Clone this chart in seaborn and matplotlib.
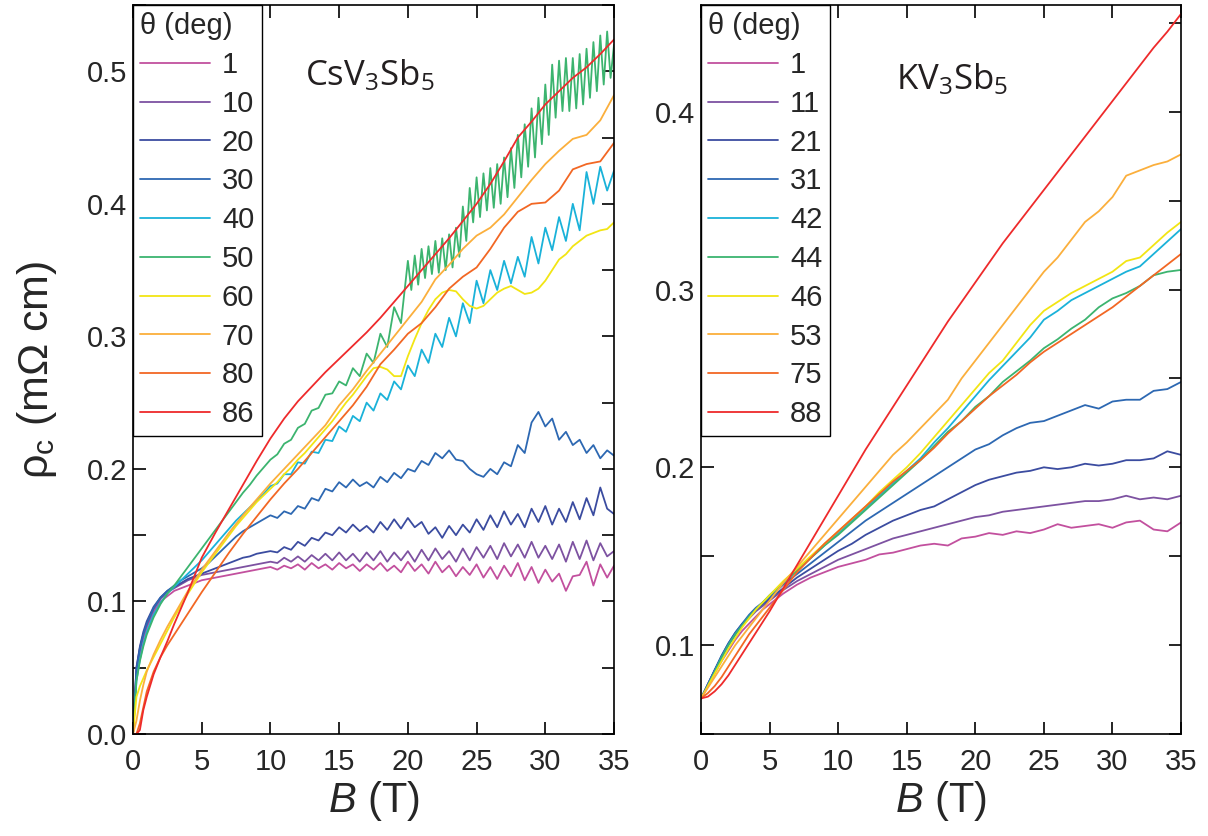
import numpy as np
import pandas as pd
import matplotlib
matplotlib.use("Agg")
import matplotlib.pyplot as plt
import seaborn as sns
from matplotlib.ticker import MultipleLocator, FormatStrFormatter

# ---------------- data: CsV3Sb5 (left panel) ----------------
B_cs_fine = [0, 0.25, 0.5, 0.75, 1, 1.5, 2, 2.5, 3, 3.5, 4, 4.5,
             5, 5.5, 6, 6.5, 7, 7.5, 8, 8.5, 9, 9.5,
             10, 10.5, 11, 11.5, 12, 12.5, 13, 13.5, 14, 14.5,
             15, 15.5, 16, 16.5, 17, 17.5, 18, 18.5, 19, 19.5,
             20, 20.5, 21, 21.5, 22, 22.5, 23, 23.5, 24, 24.5,
             25, 25.5, 26, 26.5, 27, 27.5, 28, 28.5, 29, 29.5,
             30, 30.5, 31, 31.5, 32, 32.5, 33, 33.5, 34, 34.5, 35]
B_cs_green = [0, 0.25, 0.5, 0.75, 1, 1.5, 2, 2.5, 3, 3.5, 4, 4.5,
              5, 5.5, 6, 6.5, 7, 7.5, 8, 8.5, 9, 9.5,
              10, 10.5, 11, 11.5, 12, 12.5, 13, 13.5, 14, 14.5,
              15, 15.5, 16, 16.5, 17, 17.5, 18, 18.5, 19, 19.5,
              20, 20.25, 20.5, 20.75, 21, 21.25, 21.5, 21.75,
              22, 22.25, 22.5, 22.75, 23, 23.25, 23.5, 23.75,
              24, 24.25, 24.5, 24.75, 25, 25.25, 25.5, 25.75,
              26, 26.25, 26.5, 26.75, 27, 27.25, 27.5, 27.75,
              28, 28.25, 28.5, 28.75, 29, 29.25, 29.5, 29.75,
              30, 30.25, 30.5, 30.75, 31, 31.25, 31.5, 31.75,
              32, 32.25, 32.5, 32.75, 33, 33.25, 33.5, 33.75,
              34, 34.25, 34.5, 34.75, 35]
B_cs_coarse = [0, 0.25, 0.5, 0.75, 1, 1.5, 2, 2.5, 3, 3.5, 4, 4.5,
               5, 6, 7, 8, 9, 10, 11, 12, 13, 14, 15, 16, 17, 18, 19, 20,
               21, 22, 23, 24, 25, 26, 27, 28, 29, 30, 31, 32, 33, 34, 35]

cs_angles = ["1", "10", "20", "30", "40", "50", "60", "70", "80", "86"]

cs_1 = [0, 0.045, 0.06, 0.072, 0.08, 0.092, 0.1, 0.104, 0.108, 0.11, 0.112, 0.114,
        0.116, 0.117, 0.118, 0.119, 0.12, 0.121, 0.122, 0.123, 0.124, 0.125,
        0.126, 0.124, 0.127, 0.125, 0.128, 0.124, 0.129, 0.125, 0.128, 0.124,
        0.129, 0.125, 0.128, 0.123, 0.128, 0.124, 0.129, 0.123, 0.127, 0.122,
        0.130, 0.123, 0.128, 0.121, 0.130, 0.122, 0.127, 0.119, 0.126, 0.120,
        0.128, 0.118, 0.126, 0.117, 0.127, 0.119, 0.129, 0.116, 0.126, 0.114,
        0.124, 0.115, 0.121, 0.108, 0.119, 0.120, 0.130, 0.112, 0.128, 0.118, 0.127]
cs_10 = [0, 0.05, 0.065, 0.075, 0.082, 0.094, 0.102, 0.107, 0.11, 0.113, 0.116, 0.118,
         0.120, 0.121, 0.122, 0.123, 0.124, 0.125, 0.126, 0.127, 0.128, 0.129,
         0.130, 0.129, 0.133, 0.130, 0.134, 0.130, 0.135, 0.131, 0.136, 0.131,
         0.137, 0.131, 0.136, 0.130, 0.137, 0.131, 0.138, 0.130, 0.137, 0.131,
         0.138, 0.130, 0.139, 0.131, 0.140, 0.132, 0.138, 0.130, 0.140, 0.131,
         0.141, 0.133, 0.142, 0.132, 0.144, 0.134, 0.143, 0.133, 0.145, 0.133,
         0.142, 0.132, 0.143, 0.130, 0.145, 0.132, 0.146, 0.131, 0.144, 0.134, 0.138]
cs_20 = [0, 0.05, 0.066, 0.077, 0.085, 0.096, 0.103, 0.108, 0.111, 0.114, 0.117, 0.119,
         0.121, 0.123, 0.125, 0.127, 0.129, 0.131, 0.133, 0.134, 0.136, 0.137,
         0.138, 0.137, 0.141, 0.139, 0.145, 0.142, 0.148, 0.146, 0.152, 0.150,
         0.156, 0.152, 0.158, 0.153, 0.157, 0.152, 0.160, 0.154, 0.162, 0.155,
         0.163, 0.156, 0.160, 0.151, 0.156, 0.148, 0.157, 0.150, 0.158, 0.152,
         0.162, 0.154, 0.165, 0.156, 0.168, 0.158, 0.166, 0.156, 0.170, 0.160,
         0.172, 0.158, 0.170, 0.160, 0.175, 0.162, 0.178, 0.165, 0.186, 0.170, 0.166]
cs_30 = [0, 0.048, 0.064, 0.075, 0.083, 0.095, 0.103, 0.108, 0.112, 0.116, 0.119, 0.122,
         0.125, 0.129, 0.134, 0.139, 0.144, 0.149, 0.153, 0.156, 0.159, 0.162,
         0.165, 0.163, 0.168, 0.166, 0.172, 0.170, 0.178, 0.176, 0.185, 0.183,
         0.190, 0.186, 0.192, 0.187, 0.190, 0.186, 0.194, 0.190, 0.197, 0.193,
         0.200, 0.198, 0.206, 0.203, 0.212, 0.208, 0.214, 0.207, 0.206, 0.200,
         0.196, 0.194, 0.200, 0.196, 0.205, 0.202, 0.218, 0.212, 0.235, 0.243,
         0.232, 0.238, 0.222, 0.228, 0.218, 0.222, 0.212, 0.218, 0.208, 0.214, 0.210]
cs_40 = [0, 0.04, 0.056, 0.068, 0.077, 0.09, 0.099, 0.106, 0.111, 0.116, 0.121, 0.126,
         0.131, 0.137, 0.143, 0.149, 0.155, 0.161, 0.166, 0.171, 0.176, 0.181,
         0.187, 0.189, 0.196, 0.196, 0.205, 0.204, 0.213, 0.212, 0.222, 0.221,
         0.232, 0.228, 0.240, 0.236, 0.250, 0.244, 0.257, 0.252, 0.266, 0.260,
         0.278, 0.270, 0.290, 0.280, 0.302, 0.292, 0.314, 0.300, 0.325, 0.310,
         0.342, 0.325, 0.350, 0.335, 0.357, 0.340, 0.360, 0.345, 0.375, 0.355,
         0.382, 0.365, 0.390, 0.372, 0.400, 0.380, 0.424, 0.400, 0.428, 0.410, 0.425]
cs_50 = [0, 0.04, 0.055, 0.066, 0.075, 0.088, 0.098, 0.106, 0.112, 0.119, 0.126, 0.133,
         0.140, 0.147, 0.154, 0.161, 0.168, 0.175, 0.182, 0.188, 0.195, 0.201,
         0.207, 0.211, 0.219, 0.222, 0.231, 0.234, 0.244, 0.246, 0.256, 0.257,
         0.266, 0.263, 0.276, 0.270, 0.287, 0.280, 0.302, 0.292, 0.322, 0.310,
         0.357, 0.335, 0.361, 0.339, 0.366, 0.344, 0.368, 0.347,
         0.372, 0.348, 0.374, 0.350, 0.377, 0.352, 0.382, 0.360,
         0.398, 0.372, 0.412, 0.386, 0.420, 0.390, 0.423, 0.395,
         0.427, 0.397, 0.430, 0.400, 0.435, 0.405, 0.442, 0.412,
         0.452, 0.420, 0.460, 0.428, 0.472, 0.435, 0.480, 0.445,
         0.490, 0.452, 0.505, 0.465, 0.508, 0.470, 0.510, 0.470,
         0.510, 0.472, 0.513, 0.475, 0.517, 0.480, 0.522, 0.485,
         0.527, 0.490, 0.530, 0.495, 0.520]
cs_60 = [0, 0.028, 0.036, 0.042, 0.048, 0.058, 0.068, 0.078, 0.088, 0.097, 0.106, 0.114,
         0.122, 0.129, 0.136, 0.143, 0.150, 0.157, 0.163, 0.169, 0.175, 0.180,
         0.185, 0.190, 0.196, 0.201, 0.207, 0.212, 0.218, 0.224, 0.230, 0.236,
         0.243, 0.250, 0.256, 0.263, 0.270, 0.276, 0.277, 0.275, 0.270, 0.270,
         0.285, 0.298, 0.310, 0.320, 0.328, 0.333, 0.335, 0.334, 0.328, 0.323,
         0.321, 0.323, 0.328, 0.333, 0.336, 0.338, 0.335, 0.332, 0.333, 0.336,
         0.342, 0.350, 0.358, 0.362, 0.368, 0.372, 0.376, 0.378, 0.380, 0.381, 0.386]
cs_70 = [0, 0.01, 0.025, 0.037, 0.047, 0.06, 0.071, 0.081, 0.09, 0.099, 0.108, 0.116,
         0.124, 0.138, 0.152, 0.165, 0.177, 0.189, 0.200, 0.211, 0.222, 0.233,
         0.248, 0.260, 0.274, 0.287, 0.300, 0.313, 0.326, 0.343, 0.354, 0.366,
         0.376, 0.382, 0.392, 0.405, 0.418, 0.430, 0.440, 0.449, 0.452, 0.463, 0.482]
cs_80 = [0, 0.0, 0.008, 0.02, 0.032, 0.047, 0.058, 0.067, 0.075, 0.083, 0.091, 0.099,
         0.107, 0.122, 0.137, 0.151, 0.164, 0.177, 0.189, 0.200, 0.212, 0.224,
         0.236, 0.248, 0.262, 0.279, 0.290, 0.302, 0.310, 0.322, 0.336, 0.345,
         0.352, 0.366, 0.382, 0.394, 0.400, 0.401, 0.410, 0.426, 0.430, 0.432, 0.446]
cs_86 = [0, 0.0, 0.003, 0.018, 0.028, 0.045, 0.058, 0.07, 0.083, 0.095, 0.107, 0.12,
         0.133, 0.152, 0.170, 0.188, 0.206, 0.223, 0.238, 0.251, 0.262, 0.273,
         0.283, 0.293, 0.303, 0.314, 0.326, 0.338, 0.350, 0.362, 0.374, 0.387,
         0.400, 0.415, 0.432, 0.450, 0.462, 0.475, 0.485, 0.495, 0.503, 0.513, 0.524]

# ---------------- data: KV3Sb5 (right panel) ----------------
B_k = [0, 0.5, 1, 1.5, 2, 2.5, 3, 3.5, 4, 4.5, 5,
       6, 7, 8, 9, 10, 11, 12, 13, 14, 15, 16, 17, 18, 19, 20,
       21, 22, 23, 24, 25, 26, 27, 28, 29, 30, 31, 32, 33, 34, 35]

k_angles = ["1", "11", "21", "31", "42", "44", "46", "53", "75", "88"]

k_1 = [0.07, 0.077, 0.084, 0.091, 0.097, 0.103, 0.108, 0.112, 0.116, 0.12, 0.123,
       0.129, 0.134, 0.138, 0.141, 0.144, 0.146, 0.148, 0.151, 0.152, 0.154,
       0.156, 0.157, 0.156, 0.160, 0.161, 0.163, 0.162, 0.164, 0.163, 0.165,
       0.168, 0.166, 0.167, 0.168, 0.166, 0.169, 0.170, 0.165, 0.164, 0.169]
k_11 = [0.07, 0.078, 0.086, 0.093, 0.1, 0.106, 0.111, 0.115, 0.119, 0.122, 0.125,
        0.131, 0.136, 0.140, 0.144, 0.148, 0.151, 0.154, 0.157, 0.160, 0.162,
        0.164, 0.166, 0.168, 0.170, 0.172, 0.173, 0.175, 0.176, 0.177, 0.178,
        0.179, 0.180, 0.181, 0.181, 0.182, 0.184, 0.182, 0.183, 0.182, 0.184]
k_21 = [0.07, 0.078, 0.086, 0.094, 0.101, 0.107, 0.112, 0.116, 0.12, 0.123, 0.126,
        0.132, 0.138, 0.143, 0.148, 0.153, 0.157, 0.162, 0.166, 0.170, 0.173,
        0.176, 0.178, 0.182, 0.186, 0.190, 0.193, 0.195, 0.197, 0.198, 0.200,
        0.199, 0.200, 0.202, 0.201, 0.202, 0.204, 0.204, 0.205, 0.209, 0.207]
k_31 = [0.07, 0.078, 0.086, 0.094, 0.101, 0.107, 0.112, 0.117, 0.121, 0.124, 0.127,
        0.134, 0.140, 0.146, 0.152, 0.158, 0.164, 0.170, 0.175, 0.180, 0.185,
        0.190, 0.195, 0.200, 0.205, 0.210, 0.213, 0.218, 0.222, 0.225, 0.226,
        0.229, 0.232, 0.235, 0.233, 0.237, 0.238, 0.238, 0.243, 0.244, 0.248]
k_42 = [0.07, 0.077, 0.085, 0.093, 0.1, 0.106, 0.111, 0.116, 0.12, 0.124, 0.128,
        0.135, 0.142, 0.149, 0.156, 0.163, 0.170, 0.177, 0.184, 0.191, 0.198,
        0.205, 0.214, 0.222, 0.231, 0.240, 0.249, 0.257, 0.265, 0.273, 0.283,
        0.288, 0.294, 0.298, 0.302, 0.306, 0.310, 0.313, 0.320, 0.327, 0.334]
k_44 = [0.07, 0.077, 0.085, 0.093, 0.1, 0.106, 0.111, 0.116, 0.12, 0.124, 0.128,
        0.135, 0.142, 0.149, 0.156, 0.162, 0.169, 0.176, 0.183, 0.190, 0.197,
        0.204, 0.212, 0.220, 0.226, 0.234, 0.240, 0.248, 0.254, 0.260, 0.267,
        0.272, 0.278, 0.283, 0.290, 0.295, 0.298, 0.302, 0.308, 0.310, 0.311]
k_46 = [0.07, 0.077, 0.084, 0.091, 0.098, 0.104, 0.11, 0.115, 0.12, 0.124, 0.128,
        0.136, 0.143, 0.150, 0.157, 0.164, 0.171, 0.178, 0.186, 0.193, 0.200,
        0.208, 0.217, 0.226, 0.235, 0.244, 0.253, 0.260, 0.270, 0.280, 0.288,
        0.293, 0.298, 0.302, 0.306, 0.310, 0.316, 0.318, 0.325, 0.332, 0.338]
k_53 = [0.07, 0.076, 0.082, 0.088, 0.094, 0.1, 0.105, 0.11, 0.115, 0.12, 0.125,
        0.135, 0.144, 0.153, 0.162, 0.171, 0.180, 0.189, 0.198, 0.207, 0.214,
        0.222, 0.230, 0.238, 0.250, 0.260, 0.270, 0.280, 0.290, 0.300, 0.310,
        0.318, 0.328, 0.338, 0.344, 0.352, 0.364, 0.367, 0.370, 0.372, 0.376]
k_75 = [0.07, 0.073, 0.077, 0.082, 0.088, 0.094, 0.1, 0.106, 0.111, 0.116, 0.121,
        0.131, 0.141, 0.149, 0.157, 0.164, 0.171, 0.178, 0.185, 0.192, 0.198,
        0.204, 0.211, 0.219, 0.226, 0.233, 0.240, 0.246, 0.252, 0.259, 0.265,
        0.270, 0.275, 0.280, 0.285, 0.290, 0.296, 0.302, 0.308, 0.314, 0.320]
k_88 = [0.07, 0.071, 0.074, 0.078, 0.083, 0.089, 0.095, 0.101, 0.107, 0.113, 0.119,
        0.132, 0.145, 0.158, 0.171, 0.184, 0.197, 0.210, 0.222, 0.234, 0.246,
        0.258, 0.270, 0.282, 0.293, 0.304, 0.315, 0.326, 0.336, 0.346, 0.356,
        0.366, 0.376, 0.386, 0.396, 0.406, 0.416, 0.426, 0.436, 0.445, 0.455]

colors = ["#c2509e", "#7d52a1", "#3b4ca0", "#2d68b2", "#1ab2d9",
          "#3cb46f", "#f2e514", "#fbaf3c", "#f26724", "#ee2a2b"]

# ---------------- style ----------------
sns.set_theme(style="ticks")
plt.rcParams["font.family"] = ["Liberation Sans", "DejaVu Sans"]
plt.rcParams["mathtext.fontset"] = "custom"
plt.rcParams["mathtext.rm"] = "Liberation Sans"
plt.rcParams["mathtext.it"] = "Liberation Sans:italic"
plt.rcParams["axes.linewidth"] = 1.2
plt.rcParams["axes.edgecolor"] = "black"

fig = plt.figure(figsize=(12.08, 8.36), dpi=100)
ax1 = fig.add_axes([0.1101, 0.122, 0.3982, 0.872])
ax2 = fig.add_axes([0.5803, 0.122, 0.3974, 0.872])

cs_series = [cs_1, cs_10, cs_20, cs_30, cs_40, cs_50, cs_60, cs_70, cs_80, cs_86]
cs_b = [B_cs_fine] * 5 + [B_cs_green, B_cs_fine] + [B_cs_coarse] * 3
for lab, yv, bv, c in zip(cs_angles, cs_series, cs_b, colors):
    sns.lineplot(x=bv, y=yv, ax=ax1, color=c, lw=1.3, label=lab,
                 estimator=None, sort=False)

k_series = [k_1, k_11, k_21, k_31, k_42, k_44, k_46, k_53, k_75, k_88]
for lab, yv, c in zip(k_angles, k_series, colors):
    sns.lineplot(x=B_k, y=yv, ax=ax2, color=c, lw=1.3, label=lab,
                 estimator=None, sort=False)

for ax, ylim in ((ax1, (0, 0.55)), (ax2, (0.05, 0.46))):
    ax.set_xlim(0, 35)
    ax.set_ylim(*ylim)
    ax.xaxis.set_major_locator(MultipleLocator(5))
    ax.yaxis.set_major_locator(MultipleLocator(0.1))
    ax.yaxis.set_minor_locator(MultipleLocator(0.05))
    ax.yaxis.set_major_formatter(FormatStrFormatter("%.1f"))
    ax.tick_params(which="both", direction="in", top=True, right=True,
                   length=9, width=1.2, color="black", labelsize=21)
    ax.tick_params(axis="x", pad=10)
    ax.tick_params(axis="y", pad=4)
    ax.set_xlabel(r"$\mathit{B}$ (T)", fontsize=30, labelpad=2)
    for s in ax.spines.values():
        s.set_color("black")
        s.set_linewidth(1.2)
    leg = ax.legend(title="θ (deg)", loc="upper left", bbox_to_anchor=(0, 1),
                    borderaxespad=0, frameon=True, fancybox=False,
                    edgecolor="black", framealpha=1, fontsize=21,
                    title_fontsize=21, handlelength=2.4, handletextpad=0.4,
                    labelspacing=0.37, borderpad=0.25, alignment="left")
    leg.get_frame().set_linewidth(1.0)

ax1.set_ylabel("ρ$_\\mathregular{c}$ (mΩ cm)", fontsize=31, labelpad=20)
ax2.set_ylabel("")

ax1.text(12.5, 0.497, r"CsV$_\mathregular{3}$Sb$_\mathregular{5}$", fontsize=25,
         family=["Open Sans", "DejaVu Sans"], color="#231f20", va="center", ha="left")
ax2.text(14.2, 0.418, r"KV$_\mathregular{3}$Sb$_\mathregular{5}$", fontsize=25,
         family=["Open Sans", "DejaVu Sans"], color="#231f20", va="center", ha="left")

fig.savefig("out.png", dpi=100)
